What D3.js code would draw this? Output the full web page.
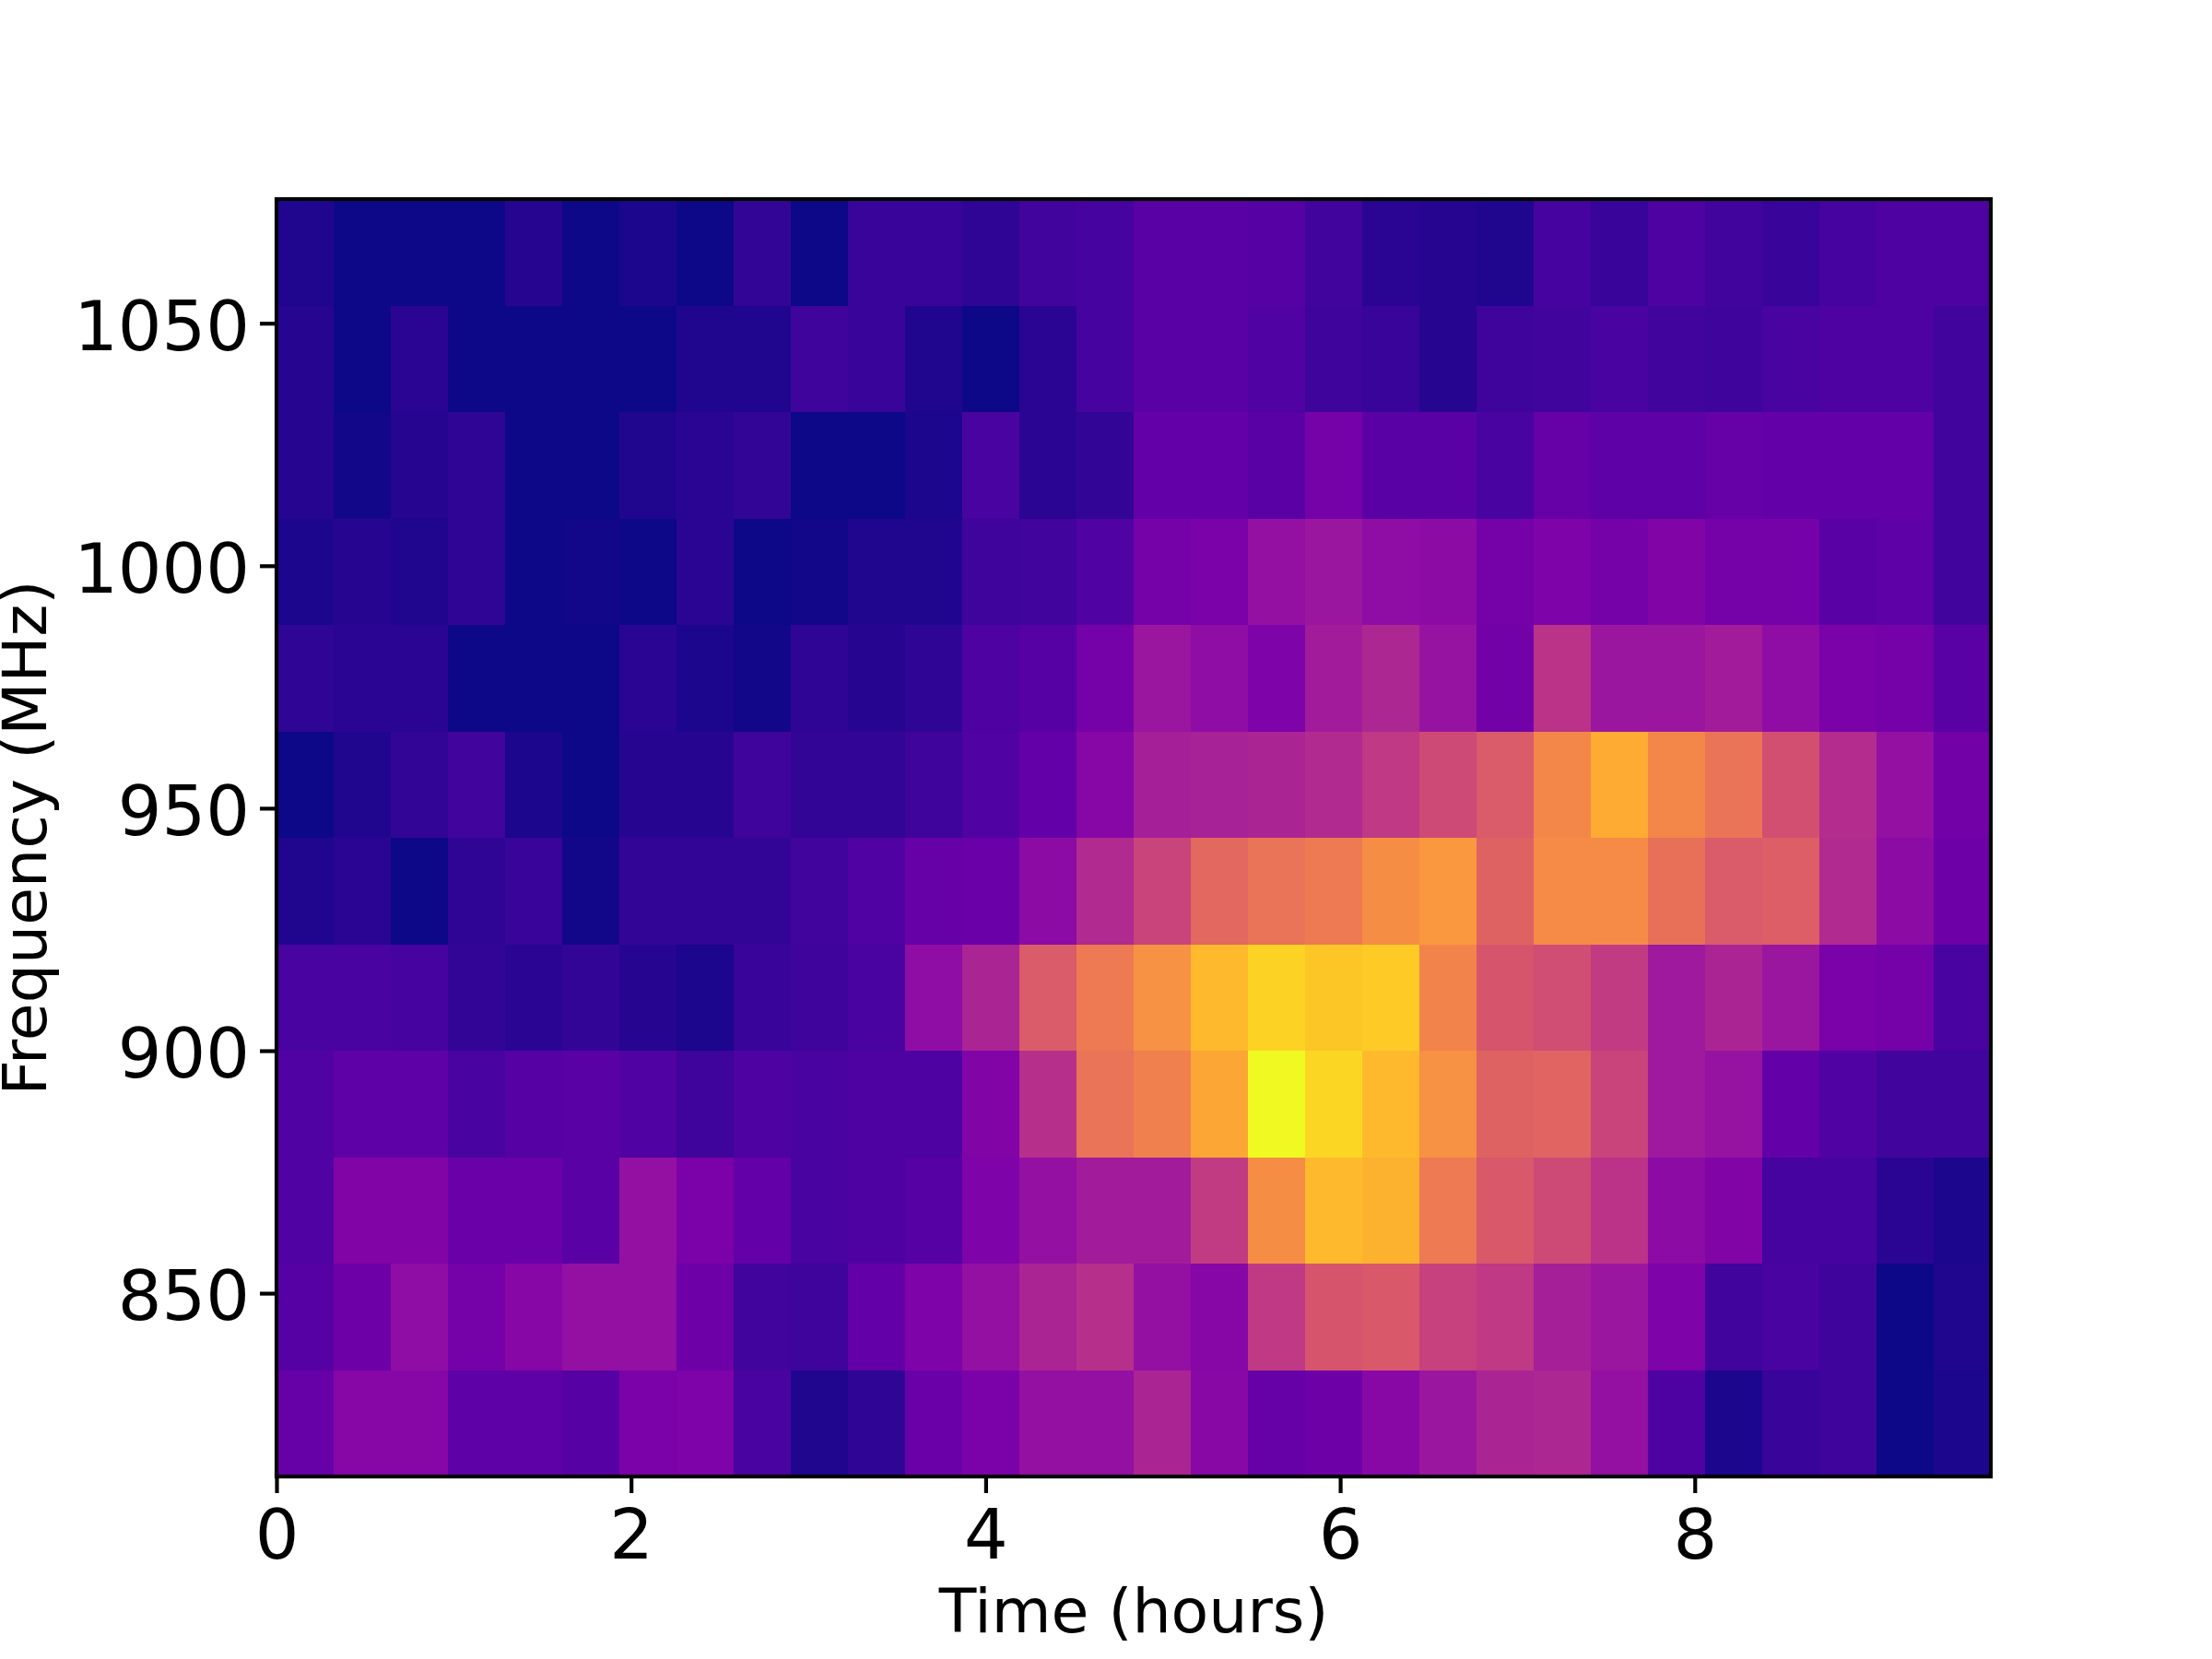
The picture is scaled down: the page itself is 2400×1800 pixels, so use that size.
<!DOCTYPE html>
<html><head><meta charset="utf-8">
<script src="https://cdn.jsdelivr.net/npm/d3@7"></script>
<style>html,body{margin:0;padding:0;background:#fff}svg{display:block}text{font-family:"DejaVu Sans";fill:#000}</style>
</head><body><svg id="c" width="2400" height="1800"></svg>
<script>
const xTicks=[0,2,4,6,8];
const yTicks=[850,900,950,1000,1050];
const timeDomain=[0,9.67];
const freqDomain=[812.2,1075.6];
const xLabel="Time (hours)";
const yLabel="Frequency (MHz)";
// rows top (high frequency) to bottom, normalised intensity
const row00=[.03,0,0,0,.04,0,.02,0,.07,0,.08,.08,.06,.1,.11,.16,.16,.15,.1,.05,.04,.03,.11,.08,.13,.1,.08,.11,.13,.13];
const row01=[.04,0,.05,0,0,0,0,.03,.03,.09,.08,.03,0,.05,.11,.16,.16,.14,.09,.08,.04,.09,.1,.12,.1,.09,.12,.13,.13,.1];
const row02=[.04,.01,.04,.06,0,0,.03,.05,.07,0,0,.02,.12,.05,.07,.18,.18,.16,.23,.16,.16,.12,.19,.17,.17,.19,.18,.18,.18,.1];
const row03=[.02,.04,.03,.06,0,.01,0,.05,0,.01,.03,.03,.09,.1,.14,.23,.24,.31,.33,.3,.29,.23,.25,.23,.26,.23,.23,.16,.17,.1];
const row04=[.06,.05,.05,0,0,0,.05,.02,.01,.06,.04,.06,.13,.15,.23,.33,.3,.25,.35,.39,.32,.22,.43,.33,.33,.35,.3,.24,.23,.16];
const row05=[0,.03,.07,.1,.02,0,.04,.04,.09,.07,.07,.09,.14,.18,.27,.36,.37,.38,.4,.45,.51,.57,.71,.81,.71,.65,.53,.41,.31,.22];
const row06=[.03,.05,0,.06,.08,.01,.07,.07,.07,.1,.14,.19,.2,.29,.4,.49,.61,.65,.67,.73,.76,.59,.72,.72,.64,.57,.58,.4,.29,.21];
const row07=[.12,.12,.11,.07,.05,.07,.04,.02,.08,.09,.12,.3,.38,.57,.67,.74,.85,.91,.88,.89,.7,.55,.52,.46,.34,.38,.33,.24,.23,.12];
const row08=[.14,.17,.17,.12,.15,.16,.14,.09,.13,.12,.13,.13,.26,.42,.65,.69,.8,1,.92,.85,.74,.59,.6,.49,.34,.32,.18,.14,.1,.1];
const row09=[.14,.26,.26,.2,.2,.16,.31,.24,.18,.12,.13,.15,.25,.31,.35,.35,.46,.73,.85,.83,.67,.56,.51,.43,.29,.26,.11,.11,.05,.02];
const row10=[.15,.21,.3,.23,.27,.31,.31,.21,.1,.09,.18,.25,.31,.38,.42,.31,.27,.45,.55,.56,.48,.45,.36,.33,.25,.1,.12,.09,0,.03];
const row11=[.19,.27,.27,.17,.17,.15,.24,.25,.12,.03,.06,.2,.24,.31,.31,.38,.28,.19,.21,.28,.33,.38,.39,.31,.13,.02,.08,.09,0,.02];
const rows=[row00,row01,row02,row03,row04,row05,row06,row07,row08,row09,row10,row11];

const W=2400,H=1800,L=300,R=2160,T=216,B=1602,lw=4.17,fs=75;
const svg=d3.select("#c");
const x=d3.scaleLinear().domain(timeDomain).range([L,R]);
const y=d3.scaleLinear().domain(freqDomain).range([B,T]);
const color=d3.scaleSequential(d3.interpolatePlasma).domain([0,1]);
const nCols=rows[0].length,nRows=rows.length;
const col=d3.scaleLinear().domain([0,nCols]).range(timeDomain);
const rowF=d3.scaleLinear().domain([0,nRows]).range([freqDomain[1],freqDomain[0]]);

svg.append("g").attr("shape-rendering","crispEdges").selectAll("g").data(rows).join("g")
  .each(function(r,i){
    d3.select(this).selectAll("rect").data(r).join("rect")
      .attr("x",(d,j)=>x(col(j)))
      .attr("width",(d,j)=>x(col(j+1))-x(col(j)))
      .attr("y",y(rowF(i)))
      .attr("height",y(rowF(i+1))-y(rowF(i)))
      .attr("fill",d=>color(d));
  });

const ax=svg.append("g").attr("transform",`translate(0,${B})`)
  .call(d3.axisBottom(x).tickValues(xTicks).tickFormat(d3.format("d")).tickSize(18).tickPadding(18));
const ay=svg.append("g").attr("transform",`translate(${L},0)`)
  .call(d3.axisLeft(y).tickValues(yTicks).tickFormat(d3.format("d")).tickSize(18).tickPadding(11));
[ax,ay].forEach(g=>{
  g.select(".domain").remove();
  g.selectAll(".tick line").attr("stroke","#000").attr("stroke-width",lw);
  g.selectAll(".tick text").attr("fill","#000").style("font-family","DejaVu Sans").style("font-size",fs+"px");
});
ay.selectAll(".tick text").attr("dy","0.38em");
svg.append("text").attr("x",(L+R)/2).attr("y",1771).attr("text-anchor","middle").style("font-size","66.5px").text(xLabel);
svg.append("rect").attr("x",L).attr("y",T).attr("width",R-L).attr("height",B-T)
  .attr("fill","none").attr("stroke","#000").attr("stroke-width",lw);
svg.append("text").attr("transform","translate(50,909) rotate(-90)").attr("text-anchor","middle").style("font-size","66.5px").text(yLabel);
</script></body></html>
